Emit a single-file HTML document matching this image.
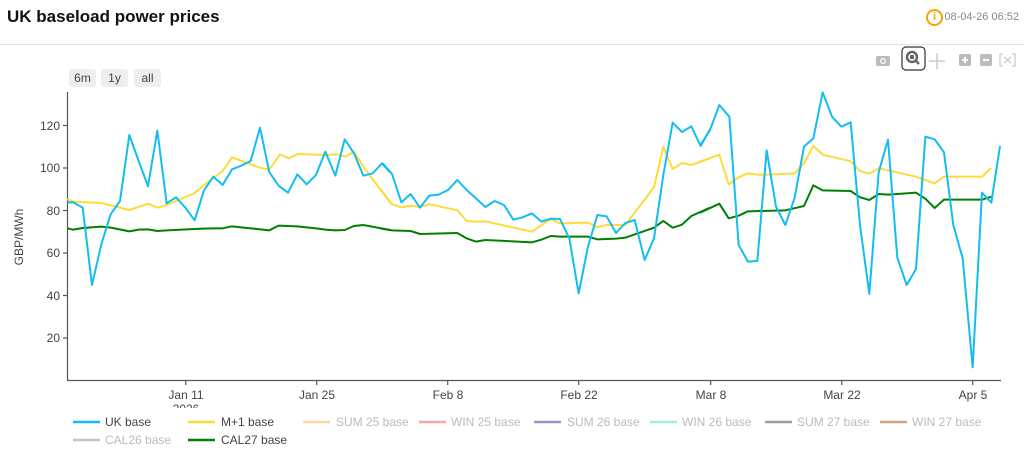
<!DOCTYPE html>
<html><head><meta charset="utf-8"><style>
html,body{margin:0;padding:0;background:#fff;width:1024px;height:457px;overflow:hidden;font-family:"Liberation Sans",sans-serif}
.title{position:absolute;left:7px;top:7px;font-size:17px;font-weight:bold;color:#111}
.hdr{position:absolute;left:0;top:44px;width:1024px;height:1px;background:#e4e4e4}
.ts{position:absolute;right:5px;top:11px;font-size:11px;color:#888}
.info{position:absolute;left:926px;top:9px;width:13px;height:13px;border:2px solid #f5a500;border-radius:50%;color:#f5a500;font-size:11px;font-weight:bold;text-align:center;line-height:13px;box-sizing:content-box}
.btn{position:absolute;top:69px;height:18px;background:#eee;border-radius:3px;font-size:12px;color:#444;text-align:center;line-height:18px}
</style></head><body>
<div class="title">UK baseload power prices</div>
<div class="info">i</div>
<div class="ts">08-04-26 06:52</div>
<div class="hdr"></div>
<div class="btn" style="left:69px;width:27px">6m</div>
<div class="btn" style="left:101px;width:27px">1y</div>
<div class="btn" style="left:134px;width:27px">all</div>
<svg width="1024" height="457" style="position:absolute;left:0;top:0" font-family="Liberation Sans, sans-serif">
<g fill="#bbb">
<rect x="876" y="56" width="14" height="10" rx="2"/><circle cx="883" cy="61" r="3" fill="#fff"/><circle cx="883" cy="61" r="1.8"/>
<rect x="902" y="47" width="23" height="23" rx="4" fill="none" stroke="#333" stroke-width="1.2"/>
<circle cx="912" cy="57" r="5" fill="none" stroke="#666" stroke-width="2.5"/><rect x="910" y="55" width="4" height="4" fill="#666"/><line x1="915" y1="60" x2="919" y2="64" stroke="#666" stroke-width="2.5"/>
<path d="M937 53v16M929 61h16" stroke="#ccc" stroke-width="1.5"/>
<rect x="959" y="54" width="12" height="12" rx="2"/><path d="M962 60h6M965 57v6" stroke="#fff" stroke-width="1.8"/>
<rect x="980" y="54" width="12" height="12" rx="2"/><path d="M983 60h6" stroke="#fff" stroke-width="1.8"/>
<path d="M1003 54h-3v12h3M1012 54h3v12h-3M1004 57l7 6M1011 57l-7 6" stroke="#ccc" stroke-width="1.3" fill="none"/>
</g>
<g stroke="#555" stroke-width="1.2">
<line x1="67.5" y1="92" x2="67.5" y2="380.5"/>
<line x1="67" y1="380.5" x2="1001" y2="380.5"/>
<line x1="63" y1="125.5" x2="67" y2="125.5"/><line x1="63" y1="168" x2="67" y2="168"/><line x1="63" y1="210.5" x2="67" y2="210.5"/><line x1="63" y1="253" x2="67" y2="253"/><line x1="63" y1="295.5" x2="67" y2="295.5"/><line x1="63" y1="338" x2="67" y2="338"/>
<line x1="185.7" y1="380" x2="185.7" y2="385"/><line x1="316.7" y1="380" x2="316.7" y2="385"/><line x1="447.7" y1="380" x2="447.7" y2="385"/><line x1="578.7" y1="380" x2="578.7" y2="385"/><line x1="710.7" y1="380" x2="710.7" y2="385"/><line x1="841.7" y1="380" x2="841.7" y2="385"/><line x1="972.7" y1="380" x2="972.7" y2="385"/>
</g>
<g font-size="12" fill="#444" text-anchor="end">
<text x="60" y="130">120</text><text x="60" y="172">100</text><text x="60" y="215">80</text><text x="60" y="257">60</text><text x="60" y="300">40</text><text x="60" y="342">20</text>
</g>
<text transform="translate(23,237) rotate(-90)" font-size="12" fill="#444" text-anchor="middle">GBP/MWh</text>
<g font-size="12" fill="#444" text-anchor="middle">
<text x="186" y="399">Jan 11</text><text x="317" y="399">Jan 25</text><text x="448" y="399">Feb 8</text><text x="579" y="399">Feb 22</text><text x="711" y="399">Mar 8</text><text x="842" y="399">Mar 22</text><text x="973" y="399">Apr 5</text>
</g>
<svg x="150" y="400" width="80" height="8"><text x="36" y="13" font-size="12" fill="#444" text-anchor="middle">2026</text></svg>
<g fill="none" stroke-linejoin="round">
<g transform="translate(60,85) scale(0.33333)">
<polyline vector-effect="non-scaling-stroke" stroke="#008000" stroke-width="2" points="22,430 40,434 68,429 124,425 152,428 208,439 236,434 264,433 292,438 320,436 404,432 432,431 460,430 488,430 516,424 572,430 628,436 656,422 712,424 768,430 796,434 826,436 854,435 882,423 910,420 990,435"/>
<polyline vector-effect="non-scaling-stroke" stroke="#fddb3a" stroke-width="2" points="22,342 40,350 124,354 208,375 264,356 292,368 320,360 404,324 432,300 488,258 516,217 572,238 600,248 628,254 660,208 686,220 714,207 798,210 830,208 856,215 882,200 910,245 990,352"/>
<polyline vector-effect="non-scaling-stroke" stroke="#13bdf2" stroke-width="2" points="22,352 40,352 68,368 96,600 124,478 152,388 180,348 208,150 236,228 264,304 292,137 320,355 348,337 376,368 404,406 432,316 460,275 488,300 516,253 544,242 572,228 600,128 628,262 656,302 684,323 712,268 740,298 768,270 796,200 826,272 854,163 882,205 910,272 938,265 966,235 990,262"/>
</g>
<g transform="translate(380,85) scale(0.33333)">
<polyline vector-effect="non-scaling-stroke" stroke="#008000" stroke-width="2" points="0,430 36,436 92,438 120,447 232,444 260,460 288,470 316,465 456,472 484,464 512,453 540,455 624,455 652,463 708,461 736,458 822,428 850,408 878,428 906,419 934,393 990,368"/>
<polyline vector-effect="non-scaling-stroke" stroke="#fddb3a" stroke-width="2" points="0,310 36,358 64,367 92,362 120,366 148,358 232,376 260,408 288,410 316,409 456,440 512,402 540,415 624,413 652,427 680,420 736,420 822,307 850,185 878,252 906,234 934,240 990,220"/>
<polyline vector-effect="non-scaling-stroke" stroke="#13bdf2" stroke-width="2" points="8,235 36,267 64,352 92,327 120,368 148,332 176,329 204,315 232,285 260,315 288,340 316,366 344,348 372,360 400,404 428,397 456,385 484,410 512,401 540,402 568,460 596,625 624,485 652,390 680,394 708,444 736,414 764,405 794,525 822,460 850,270 878,113 906,141 934,124 962,183 990,133"/>
</g>
<g transform="translate(700,85) scale(0.33333)">
<polyline vector-effect="non-scaling-stroke" stroke="#008000" stroke-width="2" points="0,383 58,356 86,400 116,392 144,379 256,376 312,363 340,301 368,316 452,318 480,337 508,345 536,327 564,329 648,323 676,341 704,369 732,344 846,344 874,335"/>
<polyline vector-effect="non-scaling-stroke" stroke="#fddb3a" stroke-width="2" points="0,230 58,209 86,298 116,277 144,265 172,269 200,269 284,265 312,235 340,183 368,209 452,229 480,258 508,266 536,250 564,256 648,275 704,295 732,275 846,275 874,249"/>
<polyline vector-effect="non-scaling-stroke" stroke="#13bdf2" stroke-width="2" points="0,182 30,135 58,60 88,95 116,480 144,530 172,528 200,196 228,365 256,420 284,338 312,185 340,160 368,22 396,95 424,125 452,112 480,420 508,627 536,262 564,164 592,518 620,600 648,552 676,155 704,163 732,202 760,420 788,520 818,847 846,323 874,353 900,183"/>
</g>
</g>
<g stroke-width="2.5">
<line x1="73" y1="422" x2="100" y2="422" stroke="#13bdf2"/>
<line x1="188" y1="422" x2="215" y2="422" stroke="#fddb3a"/>
<line x1="303" y1="422" x2="330" y2="422" stroke="#ffd3a6"/>
<line x1="419" y1="422" x2="446" y2="422" stroke="#f5aaaa"/>
<line x1="534" y1="422" x2="561" y2="422" stroke="#9d92c8"/>
<line x1="650" y1="422" x2="677" y2="422" stroke="#a3ede0"/>
<line x1="765" y1="422" x2="792" y2="422" stroke="#9e9e9e"/>
<line x1="880" y1="422" x2="907" y2="422" stroke="#cca68c"/>
<line x1="73" y1="440" x2="100" y2="440" stroke="#bcc8bc"/>
<line x1="188" y1="440" x2="215" y2="440" stroke="#008000"/>
</g>
<g font-size="12" fill="#bbb">
<text x="105" y="426" fill="#444">UK base</text>
<text x="221" y="426" fill="#444">M+1 base</text>
<text x="336" y="426">SUM 25 base</text>
<text x="451" y="426">WIN 25 base</text>
<text x="567" y="426">SUM 26 base</text>
<text x="682" y="426">WIN 26 base</text>
<text x="797" y="426">SUM 27 base</text>
<text x="912" y="426">WIN 27 base</text>
<text x="105" y="444">CAL26 base</text>
<text x="221" y="444" fill="#444">CAL27 base</text>
</g>
</svg>
</body></html>
